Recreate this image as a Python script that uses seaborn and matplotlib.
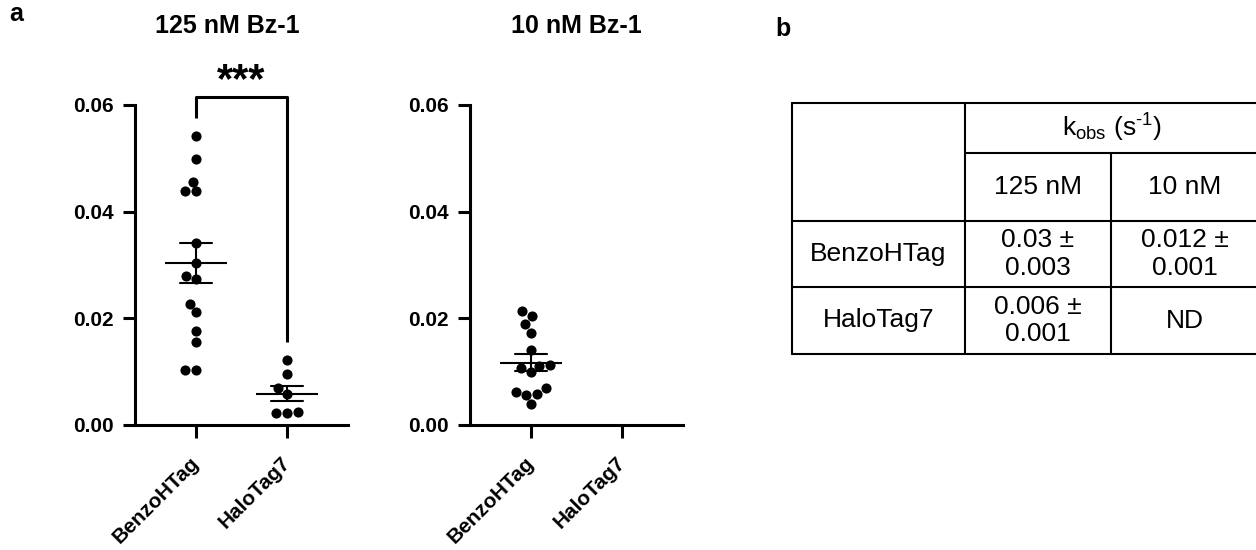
import matplotlib
matplotlib.use('Agg')
import matplotlib.pyplot as plt
import matplotlib.ticker as mticker
import seaborn as sns
import pandas as pd

# Dades llegides del gràfic (kobs, s^-1)
proteines = ['BenzoHTag', 'HaloTag7']
benzo_125 = [0.0542, 0.0499, 0.0456, 0.0438, 0.0438, 0.0342, 0.0303, 0.0279,
             0.0274, 0.0227, 0.0211, 0.0177, 0.0156, 0.0104, 0.0104]
halo_125 = [0.0121, 0.0096, 0.0069, 0.0058, 0.0025, 0.0022, 0.0022]
benzo_10 = [0.0213, 0.0204, 0.0189, 0.0173, 0.0141, 0.0112, 0.0111, 0.0106,
            0.0099, 0.0069, 0.0062, 0.0059, 0.0056, 0.0039]
halo_10 = []
titols = ['125 nM Bz-1', '10 nM Bz-1']
y_ticks = [0.00, 0.02, 0.04, 0.06]
significancia = '***'

# Taula (panell b)
taula_capcalera = r'k$_{\mathrm{obs}}$ (s$^{\mathrm{‐1}}$)'
taula_columnes = ['125 nM', '10 nM']
taula_files = ['BenzoHTag', 'HaloTag7']
taula_valors = [['0.03 ±\n0.003', '0.012 ±\n0.001'],
                ['0.006 ±\n0.001', 'ND']]

sns.set_style('ticks')
plt.rcParams['font.family'] = ['Liberation Sans', 'DejaVu Sans']
plt.rcParams['mathtext.fontset'] = 'custom'
plt.rcParams['mathtext.rm'] = 'Liberation Sans'
plt.rcParams['mathtext.it'] = 'Liberation Sans:italic'
for clau in ['text.color', 'axes.labelcolor', 'axes.edgecolor',
             'xtick.color', 'ytick.color']:
    plt.rcParams[clau] = 'black'


def fer_df(benzo, halo):
    return pd.DataFrame({
        'proteina': ['BenzoHTag'] * len(benzo) + ['HaloTag7'] * len(halo),
        'kobs': list(benzo) + list(halo),
    })


def panell(ax, df, titol, titol_x):
    sns.swarmplot(data=df, x='proteina', y='kobs', order=proteines,
                  color='black', size=7.3, linewidth=0, ax=ax, zorder=2)
    sns.pointplot(data=df, x='proteina', y='kobs', order=proteines,
                  estimator='mean', errorbar='se', color='black',
                  linestyle='none', marker='_', markersize=44,
                  markeredgewidth=1.5, capsize=0.35,
                  err_kws={'linewidth': 1.5}, ax=ax, zorder=3)
    ax.set_xlim(-0.67, 1.67)
    ax.set_ylim(0, 0.06)
    ax.set_yticks(y_ticks)
    ax.yaxis.set_major_formatter(mticker.FormatStrFormatter('%.2f'))
    ax.set_xlabel('')
    ax.set_ylabel('')
    sns.despine(ax=ax)
    for s in ['left', 'bottom']:
        ax.spines[s].set_linewidth(2.2)
    ax.tick_params(axis='both', length=9, width=2.2, labelsize=15)
    ax.tick_params(axis='y', pad=6)
    ax.tick_params(axis='x', pad=16)
    for lab in ax.get_yticklabels():
        lab.set_fontweight('bold')
    ax.set_xticks(range(len(proteines)))
    ax.set_xticklabels(proteines, rotation=45, ha='right', va='center',
                       rotation_mode='anchor', fontweight='bold')
    ax.text(titol_x, 1.247, titol, transform=ax.transAxes, ha='center',
            va='center', fontsize=18, fontweight='bold')


fig = plt.figure(figsize=(12.56, 5.5), dpi=100)
W, H = 1256, 550
ax1 = fig.add_axes([135 / W, (H - 425) / H, 213 / W, 320 / H])
ax2 = fig.add_axes([470 / W, (H - 425) / H, 213 / W, 320 / H])

panell(ax1, fer_df(benzo_125, halo_125), titols[0], 0.432)
panell(ax2, fer_df(benzo_10, halo_10), titols[1], 0.5)

# Claudàtor de significació
marge = 0.0034
dalt = 0.0615
ax1.plot([0, 0, 1, 1], [max(benzo_125) + marge, dalt, dalt, max(halo_125) + marge],
         color='black', lw=2.2, clip_on=False, solid_capstyle='butt')
ax1.text(0.5, 0.0625, significancia, ha='center', va='baseline',
         fontsize=30, fontweight='bold')

fig.text(16 / W, 1 - 14 / H, 'a', ha='center', va='center',
         fontsize=18, fontweight='bold')
fig.text(783 / W, 1 - 29 / H, 'b', ha='center', va='center',
         fontsize=18, fontweight='bold')

# Taula dibuixada amb línies
axt = fig.add_axes([792 / W, (H - 354) / H, 466 / W, 251 / H])
axt.set_xlim(0, 466)
axt.set_ylim(251, 0)
axt.axis('off')
col_x = [0, 173, 319, 466]
fila_y = [0, 50, 118, 184, 251]
lw_t = 1.5
for y in [fila_y[0], fila_y[2], fila_y[3], fila_y[4]]:
    axt.plot([col_x[0], col_x[3]], [y, y], color='black', lw=lw_t, clip_on=False)
axt.plot([col_x[1], col_x[3]], [fila_y[1]] * 2, color='black', lw=lw_t, clip_on=False)
for x in [col_x[0], col_x[1], col_x[3]]:
    axt.plot([x, x], [fila_y[0], fila_y[4]], color='black', lw=lw_t, clip_on=False)
axt.plot([col_x[2]] * 2, [fila_y[1], fila_y[4]], color='black', lw=lw_t, clip_on=False)

fs_t = 19
axt.text((col_x[1] + col_x[3]) / 2, (fila_y[0] + fila_y[1]) / 2, taula_capcalera,
         ha='center', va='center', fontsize=fs_t)
for j, c in enumerate(taula_columnes):
    axt.text((col_x[j + 1] + col_x[j + 2]) / 2, (fila_y[1] + fila_y[2]) / 2, c,
             ha='center', va='center', fontsize=fs_t)
for i, f in enumerate(taula_files):
    yc = (fila_y[i + 2] + fila_y[i + 3]) / 2
    axt.text((col_x[0] + col_x[1]) / 2, yc, f, ha='center', va='center', fontsize=fs_t)
    for j, v in enumerate(taula_valors[i]):
        axt.text((col_x[j + 1] + col_x[j + 2]) / 2, yc, v, ha='center', va='center',
                 multialignment='center', fontsize=fs_t)

fig.savefig('out.png', dpi=100)
